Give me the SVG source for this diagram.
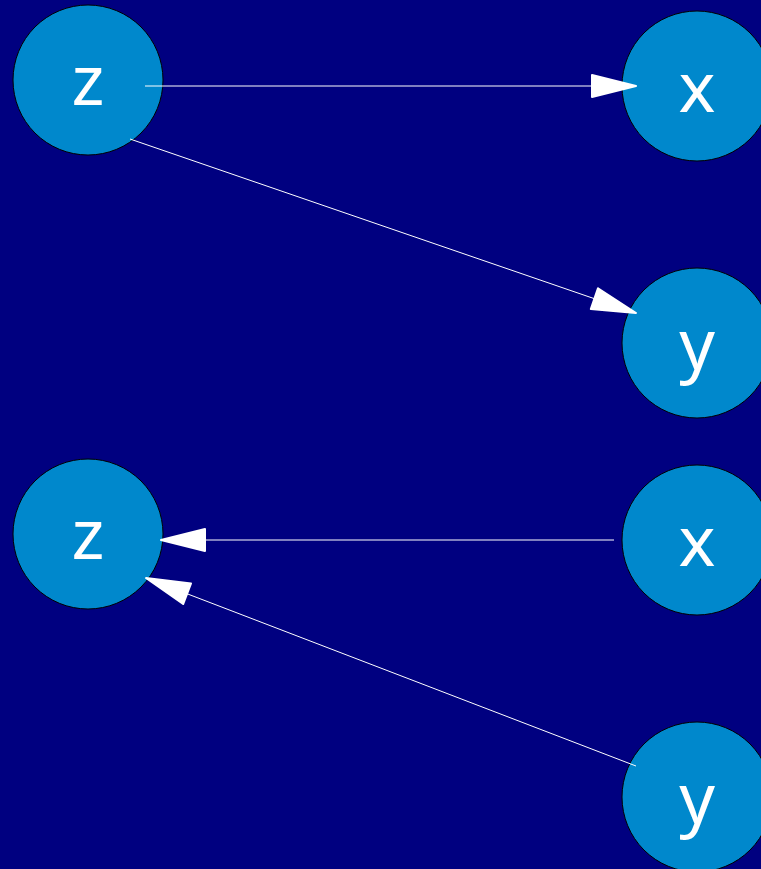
<svg xmlns="http://www.w3.org/2000/svg" width="761" height="869" viewBox="0 0 761 869">
<defs>
<style>
.node circle{fill:#0088cc;stroke:#000000;stroke-width:1}
.node text{fill:#ffffff;font-family:"Noto Sans","Open Sans",sans-serif;font-size:70px;text-anchor:middle}
.edge{stroke:#ffffff;stroke-width:1;fill:none}
</style>
<marker id="arr" markerUnits="userSpaceOnUse" markerWidth="48" markerHeight="26" refX="45" refY="13" orient="auto" viewBox="-2 0 48 26">
<path d="M1,2 L45,13 L1,24 Z" fill="#ffffff" stroke="#ffffff" stroke-width="2" stroke-linejoin="round"/>
</marker>
</defs>
<rect x="0" y="0" width="761" height="869" fill="#000080"/>
<g id="node-z1" class="node"><circle cx="88" cy="80" r="75"/><text x="88" y="105">z</text></g>
<g id="node-x1" class="node"><circle cx="697" cy="86" r="75"/><text x="697" y="112">x</text></g>
<g id="node-y1" class="node"><circle cx="697" cy="343" r="75"/><text x="697" y="369">y</text></g>
<g id="node-z2" class="node"><circle cx="88" cy="534" r="75"/><text x="88" y="559">z</text></g>
<g id="node-x2" class="node"><circle cx="697" cy="540" r="75"/><text x="697" y="566">x</text></g>
<g id="node-y2" class="node"><circle cx="697" cy="797" r="75"/><text x="697" y="823">y</text></g>
<g id="connectors">
<line class="edge" x1="145" y1="86" x2="636" y2="86" marker-end="url(#arr)"/>
<line class="edge" x1="130" y1="139" x2="636" y2="313" marker-end="url(#arr)"/>
<line class="edge" x1="614" y1="540" x2="161" y2="540" marker-end="url(#arr)"/>
<line class="edge" x1="636" y1="766" x2="146" y2="578" marker-end="url(#arr)"/>
</g>
</svg>
